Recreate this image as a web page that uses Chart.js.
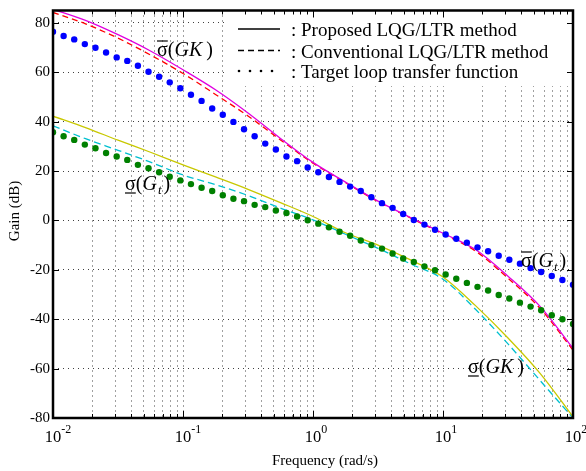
<!DOCTYPE html>
<html><head><meta charset="utf-8">
<script src="https://cdn.jsdelivr.net/npm/chart.js@4/dist/chart.umd.min.js"></script>
<style>html,body{margin:0;padding:0;background:#fff}canvas{display:block}</style>
</head><body>
<canvas id="c" width="586" height="471"></canvas>
<script>
// ---- data ----
const freqDots = [0.01, 0.012068, 0.014563, 0.017575, 0.02121, 0.025595, 0.030888, 0.037276, 0.044984, 0.054287,
  0.065513, 0.07906, 0.09541, 0.11514, 0.13895, 0.16768, 0.20236, 0.24421, 0.29471, 0.35565,
  0.42919, 0.51795, 0.62506, 0.75431, 0.9103, 1.0985, 1.3257, 1.5999, 1.9307, 2.33,
  2.8118, 3.3932, 4.0949, 4.9417, 5.9636, 7.1969, 8.6851, 10.481, 12.649, 15.264,
  18.421, 22.23, 26.827, 32.375, 39.069, 47.149, 56.899, 68.665, 82.864, 100];
const targetUpper = [76.4, 74.7, 73.3, 71.4, 69.9, 68.0, 66.0, 64.6, 62.6, 60.2,
  58.2, 55.9, 53.5, 50.9, 48.4, 45.3, 42.8, 39.9, 36.9, 34.1,
  31.1, 28.7, 25.9, 24.0, 21.4, 19.5, 17.6, 15.6, 13.7, 11.9,
  9.4, 7.0, 5.1, 2.6, 0.2, -1.7, -3.8, -5.7, -7.4, -9.0,
  -10.9, -12.5, -14.3, -15.9, -17.5, -19.3, -20.9, -22.5, -24.1, -26.0];
const targetLower = [35.7, 34.1, 32.6, 30.7, 29.2, 27.3, 25.9, 24.5, 22.5, 21.1,
  19.5, 17.7, 16.2, 14.7, 13.2, 11.9, 10.2, 8.8, 7.8, 6.3,
  5.4, 4.0, 3.0, 1.6, 0.1, -1.3, -2.8, -4.6, -6.2, -8.1,
  -10.0, -11.4, -13.4, -15.4, -16.8, -18.6, -20.2, -21.9, -23.6, -25.3,
  -26.9, -28.4, -30.2, -31.6, -33.3, -34.9, -36.4, -38.4, -40.0, -41.9];
const freqLine = [0.01, 0.01778, 0.03162, 0.05623, 0.1, 0.1778, 0.3162, 0.5623, 1,
  1.778, 3.162, 5.623, 10, 17.78, 31.62, 56.23, 100];
const proposedUpper = [85.5, 81.0, 75.2, 68.6, 61.0, 52.9, 43.5, 33.2, 23.5, 15.5, 7.8, 1.2, -5.2, -11.8, -22.6, -35.0, -51.8];
const conventionalUpper = [84.2, 79.6, 73.8, 67.0, 59.5, 51.0, 42.3, 32.6, 23.2, 15.3, 7.6, 1.0, -5.5, -12.4, -23.4, -35.8, -52.5];
const proposedLower = [42.2, 37.6, 32.5, 27.6, 22.5, 17.6, 12.6, 7.2, 1.6, -5.0, -10.0, -16.0, -22.9, -34.5, -47.6, -62.1, -79.5];
const conventionalLower = [38.3, 33.1, 28.4, 23.6, 18.4, 14.5, 10.1, 5.0, 0.2, -5.6, -11.3, -17.6, -23.8, -36.0, -50.0, -65.0, -80.0];
const yTicks = [-80, -60, -40, -20, 0, 20, 40, 60, 80];
const xDecades = [0.01, 0.1, 1, 10, 100];
const xTickBase = ['10', '10', '10', '10', '10'];
const xTickExp = ['-2', '-1', '0', '1', '2'];
const legendLabels = [': Proposed LQG/LTR method', ': Conventional LQG/LTR method', ': Target loop transfer function'];
const xTitle = 'Frequency (rad/s)';
const yTitle = 'Gain (dB)';

// grid positions (1..9 x each decade)
const xGrid = [];
for (let d = 0; d < xDecades.length - 1; d++) for (let m = 1; m <= 9; m++) xGrid.push(+(xDecades[d] * m).toPrecision(6));
xGrid.push(xDecades[xDecades.length - 1]);

const SERIF = '"Liberation Serif", "Times New Roman", serif';
const pts = (xs, ys) => xs.map((f, i) => ({ x: f, y: ys[i] }));
const gridCol = 'rgba(0,0,0,0.75)';

function curveLabel(ctx, x, base, bar, sub) {
  ctx.fillStyle = '#000';
  ctx.textBaseline = 'alphabetic';
  ctx.textAlign = 'left';
  ctx.font = '20px ' + SERIF;
  ctx.fillText('σ', x, base);
  const ws = ctx.measureText('σ').width;
  ctx.strokeStyle = '#000'; ctx.lineWidth = 1.2;
  ctx.beginPath();
  const by = bar === 'over' ? base - 15 : base + 3;
  ctx.moveTo(x, by); ctx.lineTo(x + ws, by); ctx.stroke();
  let cx = x + ws;
  ctx.fillText('(', cx, base); cx += ctx.measureText('(').width;
  ctx.font = 'italic 20px ' + SERIF;
  if (sub) {
    ctx.fillText('G', cx, base); cx += ctx.measureText('G').width + 1;
    ctx.font = 'italic 13px ' + SERIF;
    ctx.fillText('t', cx, base + 4); cx += ctx.measureText('t').width + 2;
  } else {
    ctx.fillText('GK', cx, base); cx += ctx.measureText('GK').width + 4;
  }
  ctx.font = '20px ' + SERIF;
  ctx.fillText(')', cx, base);
}

const deco = {
  id: 'deco',
  afterDraw(chart) {
    const { ctx, chartArea: a, scales: { x, y } } = chart;
    ctx.save();
    // legend box
    ctx.fillStyle = '#fff';
    ctx.fillRect(224, a.top, a.right - 224, 86 - a.top);
    const rows = [29, 50.5, 71];
    ctx.strokeStyle = '#000'; ctx.lineWidth = 1.6;
    ctx.beginPath(); ctx.moveTo(238, rows[0]); ctx.lineTo(280, rows[0]); ctx.stroke();
    ctx.setLineDash([6, 4]);
    ctx.beginPath(); ctx.moveTo(238, rows[1]); ctx.lineTo(280, rows[1]); ctx.stroke();
    ctx.setLineDash([]);
    ctx.fillStyle = '#000';
    [239, 250, 261, 272].forEach(px => { ctx.beginPath(); ctx.arc(px, rows[2], 1.3, 0, Math.PI * 2); ctx.fill(); });
    ctx.font = '19px ' + SERIF; ctx.textAlign = 'left'; ctx.textBaseline = 'alphabetic';
    legendLabels.forEach((t, i) => ctx.fillText(t, 291, rows[i] + 7));

    // box
    ctx.strokeStyle = '#000'; ctx.lineWidth = 2.5;
    ctx.strokeRect(a.left, a.top, a.right - a.left, a.bottom - a.top);
    // inward ticks
    ctx.lineWidth = 1;
    ctx.beginPath();
    xGrid.forEach(v => {
      const px = Math.round(x.getPixelForValue(v)) + 0.5;
      const len = xDecades.includes(v) ? 7 : 4;
      ctx.moveTo(px, a.bottom); ctx.lineTo(px, a.bottom - len);
      ctx.moveTo(px, a.top); ctx.lineTo(px, a.top + len);
    });
    yTicks.forEach(v => {
      const py = Math.round(y.getPixelForValue(v)) + 0.5;
      ctx.moveTo(a.left, py); ctx.lineTo(a.left + 6, py);
      ctx.moveTo(a.right, py); ctx.lineTo(a.right - 6, py);
    });
    ctx.stroke();

    // x tick labels
    ctx.fillStyle = '#000';
    xDecades.forEach((v, i) => {
      const px = x.getPixelForValue(v);
      ctx.font = '16.5px ' + SERIF; ctx.textAlign = 'center';
      ctx.fillText(xTickBase[i], px, 442);
      const w = ctx.measureText(xTickBase[i]).width;
      ctx.font = '12px ' + SERIF; ctx.textAlign = 'left';
      ctx.fillText(xTickExp[i], px + w / 2, 433);
    });
    // axis titles
    ctx.font = '15px ' + SERIF; ctx.textAlign = 'center'; ctx.textBaseline = 'middle';
    ctx.fillText(xTitle, 325, 461);
    ctx.save(); ctx.translate(15, 211); ctx.rotate(-Math.PI / 2); ctx.fillText(yTitle, 0, 0); ctx.restore();

    // curve annotations
    curveLabel(ctx, 157, 56, 'over', false);
    curveLabel(ctx, 125, 190, 'under', true);
    curveLabel(ctx, 521, 267, 'over', true);
    curveLabel(ctx, 468, 373, 'under', false);
    ctx.restore();
  }
};

new Chart(document.getElementById('c'), {
  type: 'line',
  data: {
    datasets: [
      { label: 'Target upper', data: pts(freqDots, targetUpper), showLine: false, pointRadius: 3.2, pointBackgroundColor: '#0000ff', pointBorderWidth: 0, borderColor: '#0000ff' },
      { label: 'Target lower', data: pts(freqDots, targetLower), showLine: false, pointRadius: 3.2, pointBackgroundColor: '#008000', pointBorderWidth: 0, borderColor: '#008000' },
      { label: 'Proposed upper', data: pts(freqLine, proposedUpper), borderColor: '#e000e0', borderWidth: 1.3, pointRadius: 0, cubicInterpolationMode: 'monotone' },
      { label: 'Conventional upper', data: pts(freqLine, conventionalUpper), borderColor: '#ff0000', borderWidth: 1.3, borderDash: [6, 4], pointRadius: 0, cubicInterpolationMode: 'monotone' },
      { label: 'Proposed lower', data: pts(freqLine, proposedLower), borderColor: '#c8c800', borderWidth: 1.3, pointRadius: 0, cubicInterpolationMode: 'monotone' },
      { label: 'Conventional lower', data: pts(freqLine, conventionalLower), borderColor: '#00c0d0', borderWidth: 1.3, borderDash: [7, 4], pointRadius: 0, cubicInterpolationMode: 'monotone' }
    ]
  },
  options: {
    responsive: false, animation: false, devicePixelRatio: 1,
    layout: { padding: { left: 0, right: 13, top: 8, bottom: 0 } },
    plugins: { legend: { display: false }, tooltip: { enabled: false } },
    scales: {
      x: {
        type: 'logarithmic', min: 0.01, max: 100, position: 'bottom',
        afterFit: s => { s.height = 53; },
        afterBuildTicks: s => { s.ticks = xGrid.map(v => ({ value: v })); },
        ticks: { display: false, autoSkip: false },
        grid: { color: gridCol, lineWidth: 1, drawTicks: false },
        border: { display: false, dash: [1, 4] }
      },
      y: {
        type: 'linear', min: -80, max: 85, position: 'left',
        afterFit: s => { s.width = 53; },
        afterBuildTicks: s => { s.ticks = yTicks.map(v => ({ value: v })); },
        ticks: { color: '#000', padding: 3, font: { family: SERIF, size: 15, lineHeight: 1 } },
        grid: { color: gridCol, lineWidth: 1, drawTicks: false },
        border: { display: false, dash: [1, 4] }
      }
    }
  },
  plugins: [deco]
});
</script>
</body></html>
